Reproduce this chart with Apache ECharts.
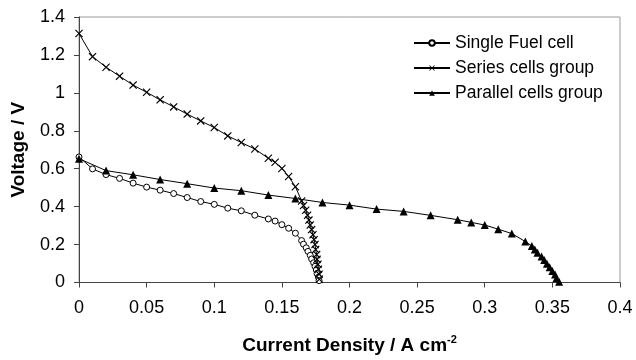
<!DOCTYPE html>
<html>
<head>
<meta charset="utf-8">
<script src="https://cdn.jsdelivr.net/npm/echarts@6/dist/echarts.min.js"></script>
<style>html,body{margin:0;padding:0;background:#fff}#c{width:636px;height:360px}</style>
</head>
<body>
<div id="c"></div>
<script>
var seriesNames = ['Single Fuel cell', 'Series cells group', 'Parallel cells group'];

var singleX = [0, 0.01, 0.02, 0.03, 0.04, 0.05, 0.06, 0.07, 0.08, 0.09, 0.1, 0.11, 0.12, 0.13, 0.14, 0.145, 0.15, 0.155, 0.16, 0.1646, 0.166, 0.168, 0.1693, 0.171, 0.172, 0.1735, 0.1745, 0.1755, 0.176, 0.177, 0.1775];
var singleY = [0.662, 0.599, 0.569, 0.549, 0.524, 0.503, 0.487, 0.469, 0.448, 0.427, 0.412, 0.392, 0.378, 0.355, 0.335, 0.324, 0.305, 0.286, 0.26, 0.221, 0.202, 0.183, 0.164, 0.143, 0.124, 0.104, 0.085, 0.066, 0.047, 0.028, 0.010];

var seriesX = [0, 0.01, 0.02, 0.03, 0.04, 0.05, 0.06, 0.07, 0.08, 0.09, 0.1, 0.11, 0.12, 0.13, 0.14, 0.145, 0.15, 0.155, 0.16, 0.1646, 0.166, 0.1676, 0.169, 0.170, 0.171, 0.172, 0.173, 0.1738, 0.1745, 0.175, 0.1757, 0.176, 0.1767, 0.177, 0.1775, 0.1777];
var seriesY = [1.313, 1.191, 1.135, 1.088, 1.041, 1.003, 0.963, 0.926, 0.888, 0.852, 0.817, 0.773, 0.738, 0.704, 0.655, 0.634, 0.601, 0.559, 0.505, 0.430, 0.406, 0.381, 0.355, 0.329, 0.303, 0.279, 0.252, 0.226, 0.200, 0.174, 0.148, 0.122, 0.096, 0.070, 0.044, 0.017];

var parallelX = [0, 0.02, 0.04, 0.06, 0.08, 0.1, 0.12, 0.14, 0.16, 0.18, 0.2, 0.22, 0.24, 0.26, 0.28, 0.29, 0.30, 0.31, 0.32, 0.33, 0.3348, 0.337, 0.339, 0.342, 0.344, 0.346, 0.348, 0.35, 0.352, 0.353, 0.355];
var parallelY = [0.653, 0.59, 0.568, 0.543, 0.521, 0.498, 0.484, 0.461, 0.443, 0.422, 0.408, 0.387, 0.375, 0.354, 0.331, 0.317, 0.303, 0.281, 0.258, 0.216, 0.193, 0.174, 0.157, 0.137, 0.118, 0.099, 0.080, 0.061, 0.042, 0.022, 0.004];

var xTicks = [0, 0.05, 0.1, 0.15, 0.2, 0.25, 0.3, 0.35, 0.4];
var yTicks = [0, 0.2, 0.4, 0.6, 0.8, 1, 1.2, 1.4];

function pairs(xs, ys) { return xs.map(function (x, i) { return [x, ys[i]]; }); }

var FONT = '"Liberation Sans", Arial, sans-serif';
var crossPath = 'path://M0,1L1,0L5,4L9,0L10,1L6,5L10,9L9,10L5,6L1,10L0,9L4,5Z';

var chart = echarts.init(document.getElementById('c'));
chart.setOption({
  animation: false,
  backgroundColor: '#fff',
  grid: { left: 79, right: 16, top: 17, bottom: 76, show: true, borderColor: '#999', borderWidth: 1, backgroundColor: 'transparent' },
  legend: {
    orient: 'vertical', left: 408, top: 29,
    itemWidth: 36, itemHeight: 7, itemGap: 7,
    data: seriesNames,
    textStyle: { fontFamily: FONT, fontSize: 17.5, color: '#000' }
  },
  xAxis: {
    type: 'value', min: 0, max: 0.4, interval: 0.05,
    name: '{b|Current Density / A cm}{s|-2}',
    nameLocation: 'middle', nameGap: 52,
    nameTextStyle: {
      rich: {
        b: { fontFamily: FONT, fontSize: 19, fontWeight: 'bold', color: '#000', lineHeight: 22 },
        s: { fontFamily: FONT, fontSize: 11, fontWeight: 'bold', color: '#000', verticalAlign: 'top', lineHeight: 22 }
      }
    },
    axisLine: { lineStyle: { color: '#444', width: 1 } },
    axisTick: { show: true, inside: false, length: 5, lineStyle: { color: '#444' } },
    axisLabel: { margin: 17, fontFamily: FONT, fontSize: 18, color: '#000',
      formatter: function (v) { var s = xTicks.find(function (t) { return Math.abs(t - v) < 1e-9; }); return s === undefined ? '' : String(s); } },
    splitLine: { show: false }
  },
  yAxis: {
    type: 'value', min: 0, max: 1.4, interval: 0.2,
    name: 'Voltage / V', nameLocation: 'middle', nameGap: 51, nameRotate: 90,
    nameTextStyle: { fontFamily: FONT, fontSize: 19, fontWeight: 'bold', color: '#000' },
    axisLine: { show: true, lineStyle: { color: '#444', width: 1 } },
    axisTick: { show: true, inside: false, length: 5, lineStyle: { color: '#444' } },
    axisLabel: { margin: 14, fontFamily: FONT, fontSize: 18, color: '#000',
      formatter: function (v) { var s = yTicks.find(function (t) { return Math.abs(t - v) < 1e-9; }); return s === undefined ? '' : String(s); } },
    splitLine: { show: false }
  },
  series: [
    { name: seriesNames[0], type: 'line', data: pairs(singleX, singleY),
      symbol: 'circle', symbolSize: 6, showAllSymbol: true,
      lineStyle: { color: '#000', width: 1 },
      itemStyle: { color: '#fff', borderColor: '#000', borderWidth: 1 } },
    { name: seriesNames[1], type: 'line', data: pairs(seriesX, seriesY),
      symbol: crossPath, symbolSize: 8, showAllSymbol: true,
      lineStyle: { color: '#000', width: 1 },
      itemStyle: { color: '#000', borderWidth: 0 } },
    { name: seriesNames[2], type: 'line', data: pairs(parallelX, parallelY),
      symbol: 'triangle', symbolSize: 8, showAllSymbol: true,
      lineStyle: { color: '#000', width: 1 },
      itemStyle: { color: '#000', borderWidth: 0 } }
  ]
});
</script>
</body>
</html>
